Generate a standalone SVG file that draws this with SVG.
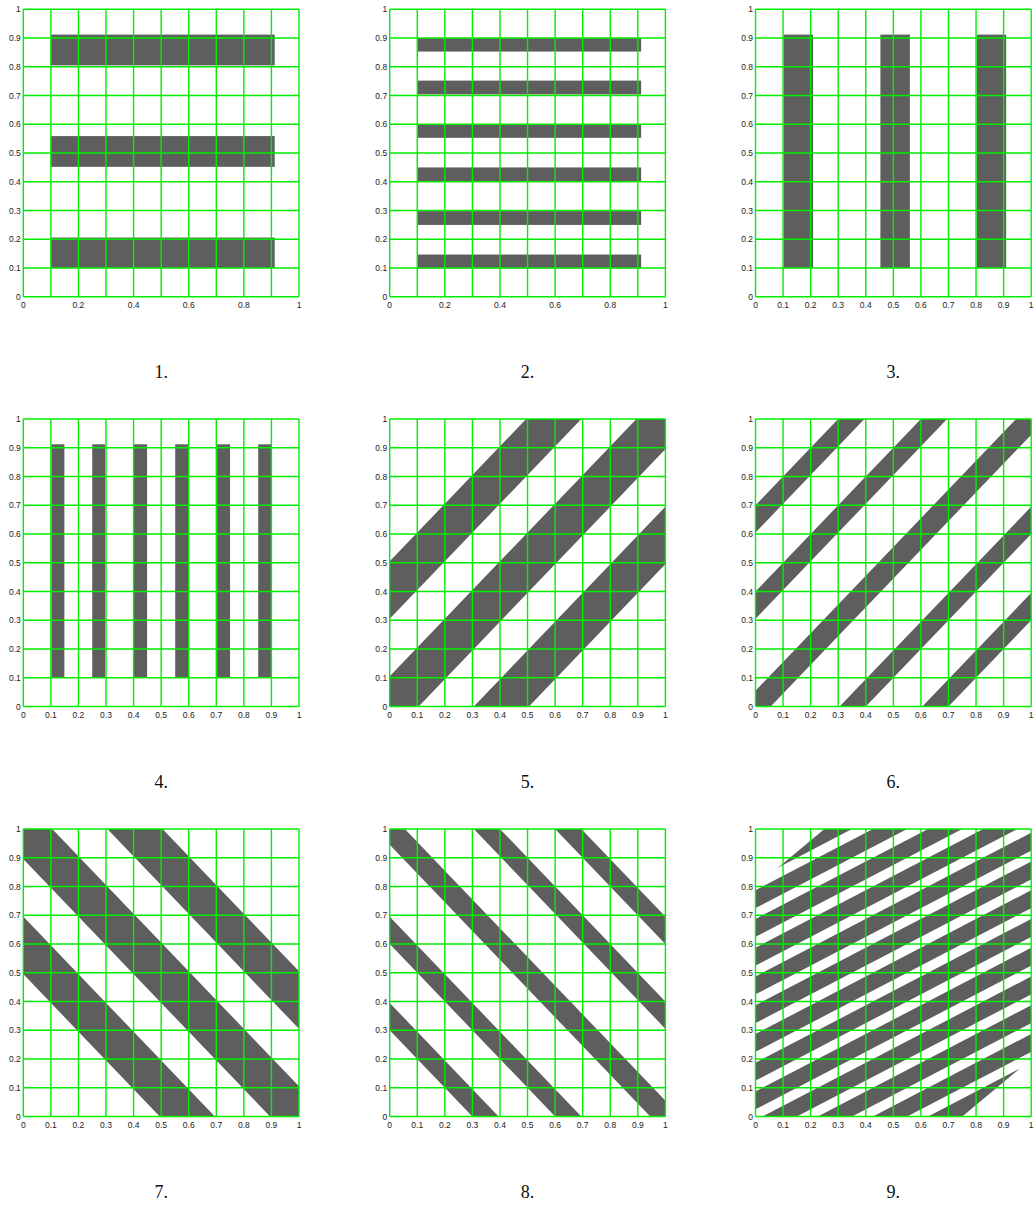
<svg xmlns="http://www.w3.org/2000/svg" width="1034" height="1216" viewBox="0 0 1034 1216">
<style>
.fill{fill:#5e5e5e;stroke:none}
.grid{fill:none;stroke:#00ee00;stroke-width:1.4}
.tick{font-family:"Liberation Sans",Arial,sans-serif;font-size:8.5px;fill:#222}
.yl{text-anchor:end}
.xl{text-anchor:middle}
.cap{font-family:"Liberation Serif","DejaVu Serif",serif;font-size:18px;fill:#111;text-anchor:middle}
</style>
<defs>
<clipPath id="unit"><rect x="0" y="0" width="1" height="1"/></clipPath>
<clipPath id="hex"><polygon points="0,0 0.75,0 1,0.2 1,1 0.25,1 0,0.8"/></clipPath>
<path id="grid" class="grid" d="M0 0V287.5M27.57 0V287.5M55.14 0V287.5M82.71 0V287.5M110.28 0V287.5M137.85 0V287.5M165.42 0V287.5M192.99 0V287.5M220.56 0V287.5M248.13 0V287.5M275.7 0V287.5M0 0H275.7M0 28.75H275.7M0 57.5H275.7M0 86.25H275.7M0 115H275.7M0 143.75H275.7M0 172.5H275.7M0 201.25H275.7M0 230H275.7M0 258.75H275.7M0 287.5H275.7"/>
<g id="ylab" class="tick yl">
<text x="-2.5" y="290.5">0</text><text x="-2.5" y="261.75">0.1</text><text x="-2.5" y="233">0.2</text><text x="-2.5" y="204.25">0.3</text><text x="-2.5" y="175.5">0.4</text><text x="-2.5" y="146.75">0.5</text><text x="-2.5" y="118">0.6</text><text x="-2.5" y="89.25">0.7</text><text x="-2.5" y="60.5">0.8</text><text x="-2.5" y="31.75">0.9</text><text x="-2.5" y="3">1</text>
</g>
<g id="xlabA" class="tick xl">
<text x="0" y="299">0</text><text x="55.14" y="299">0.2</text><text x="110.28" y="299">0.4</text><text x="165.42" y="299">0.6</text><text x="220.56" y="299">0.8</text><text x="275.7" y="299">1</text>
</g>
<g id="xlabB" class="tick xl">
<text x="0" y="299">0</text><text x="27.57" y="299">0.1</text><text x="55.14" y="299">0.2</text><text x="82.71" y="299">0.3</text><text x="110.28" y="299">0.4</text><text x="137.85" y="299">0.5</text><text x="165.42" y="299">0.6</text><text x="192.99" y="299">0.7</text><text x="220.56" y="299">0.8</text><text x="248.13" y="299">0.9</text><text x="275.7" y="299">1</text>
</g>
</defs>
<rect width="1034" height="1216" fill="#fff"/>

<g id="plot1">
<g transform="translate(23.3,296.8) scale(275.7,-287.5)" class="fill">
<rect x="0.1" y="0.805" width="0.812" height="0.107"/>
<rect x="0.1" y="0.452" width="0.812" height="0.107"/>
<rect x="0.1" y="0.1" width="0.812" height="0.106"/>
</g>
<use href="#grid" x="23.3" y="9.3"/>
<use href="#ylab" x="23.3" y="9.3"/>
<use href="#xlabA" x="23.3" y="9.3"/>
<text class="cap" x="161.2" y="378">1.</text>
</g>

<g id="plot2">
<g transform="translate(389.7,296.8) scale(275.7,-287.5)" class="fill">
<rect x="0.1" y="0.099" width="0.812" height="0.048"/>
<rect x="0.1" y="0.25" width="0.812" height="0.048"/>
<rect x="0.1" y="0.402" width="0.812" height="0.048"/>
<rect x="0.1" y="0.553" width="0.812" height="0.048"/>
<rect x="0.1" y="0.704" width="0.812" height="0.048"/>
<rect x="0.1" y="0.853" width="0.812" height="0.047"/>
</g>
<use href="#grid" x="389.7" y="9.3"/>
<use href="#ylab" x="389.7" y="9.3"/>
<use href="#xlabA" x="389.7" y="9.3"/>
<text class="cap" x="527.5" y="378">2.</text>
</g>

<g id="plot3">
<g transform="translate(755.5,296.8) scale(275.7,-287.5)" class="fill">
<rect x="0.102" y="0.1" width="0.107" height="0.812"/>
<rect x="0.453" y="0.1" width="0.107" height="0.812"/>
<rect x="0.803" y="0.1" width="0.106" height="0.812"/>
</g>
<use href="#grid" x="755.5" y="9.3"/>
<use href="#ylab" x="755.5" y="9.3"/>
<use href="#xlabB" x="755.5" y="9.3"/>
<text class="cap" x="893.3" y="378">3.</text>
</g>

<g id="plot4">
<g transform="translate(23.3,706.5) scale(275.7,-287.5)" class="fill">
<rect x="0.102" y="0.1" width="0.047" height="0.812"/>
<rect x="0.25" y="0.1" width="0.047" height="0.812"/>
<rect x="0.401" y="0.1" width="0.048" height="0.812"/>
<rect x="0.551" y="0.1" width="0.048" height="0.812"/>
<rect x="0.703" y="0.1" width="0.047" height="0.812"/>
<rect x="0.852" y="0.1" width="0.047" height="0.812"/>
</g>
<use href="#grid" x="23.3" y="419"/>
<use href="#ylab" x="23.3" y="419"/>
<use href="#xlabB" x="23.3" y="419"/>
<text class="cap" x="161.2" y="788">4.</text>
</g>

<g id="plot5">
<g transform="translate(389.7,706.5) scale(275.7,-287.5)" class="fill">
<g clip-path="url(#unit)">
<path d="M-0.1 -0.205L1.1 0.995L1.1 1.205L-0.1 0.005Z"/>
<path d="M-0.1 0.205L1.1 1.405L1.1 1.605L-0.1 0.405Z"/>
<path d="M-0.1 -0.605L1.1 0.595L1.1 0.795L-0.1 -0.405Z"/>
</g>
</g>
<use href="#grid" x="389.7" y="419"/>
<use href="#ylab" x="389.7" y="419"/>
<use href="#xlabB" x="389.7" y="419"/>
<text class="cap" x="527.5" y="788">5.</text>
</g>

<g id="plot6">
<g transform="translate(755.5,706.5) scale(275.7,-287.5)" class="fill">
<g clip-path="url(#unit)">
<path d="M-0.1 -0.155L1.1 1.045L1.1 1.155L-0.1 -0.045Z"/>
<path d="M-0.1 0.205L1.1 1.405L1.1 1.5L-0.1 0.3Z"/>
<path d="M-0.1 0.505L1.1 1.705L1.1 1.8L-0.1 0.6Z"/>
<path d="M-0.1 -0.5L1.1 0.7L1.1 0.795L-0.1 -0.405Z"/>
<path d="M-0.1 -0.8L1.1 0.4L1.1 0.495L-0.1 -0.705Z"/>
</g>
</g>
<use href="#grid" x="755.5" y="419"/>
<use href="#ylab" x="755.5" y="419"/>
<use href="#xlabB" x="755.5" y="419"/>
<text class="cap" x="893.3" y="788">6.</text>
</g>

<g id="plot7">
<g transform="translate(23.3,1116.5) scale(275.7,-287.5)" class="fill">
<g clip-path="url(#unit)">
<path d="M-0.1 0.995L1.1 -0.205L1.1 0.005L-0.1 1.205Z"/>
<path d="M-0.1 1.405L1.1 0.205L1.1 0.405L-0.1 1.605Z"/>
<path d="M-0.1 0.595L1.1 -0.605L1.1 -0.405L-0.1 0.795Z"/>
</g>
</g>
<use href="#grid" x="23.3" y="829"/>
<use href="#ylab" x="23.3" y="829"/>
<use href="#xlabB" x="23.3" y="829"/>
<text class="cap" x="161.2" y="1198">7.</text>
</g>

<g id="plot8">
<g transform="translate(389.7,1116.5) scale(275.7,-287.5)" class="fill">
<g clip-path="url(#unit)">
<path d="M-0.1 1.045L1.1 -0.155L1.1 -0.045L-0.1 1.155Z"/>
<path d="M-0.1 1.405L1.1 0.205L1.1 0.3L-0.1 1.5Z"/>
<path d="M-0.1 1.7L1.1 0.5L1.1 0.595L-0.1 1.795Z"/>
<path d="M-0.1 0.7L1.1 -0.5L1.1 -0.405L-0.1 0.795Z"/>
<path d="M-0.1 0.4L1.1 -0.8L1.1 -0.705L-0.1 0.495Z"/>
</g>
</g>
<use href="#grid" x="389.7" y="829"/>
<use href="#ylab" x="389.7" y="829"/>
<use href="#xlabB" x="389.7" y="829"/>
<text class="cap" x="527.5" y="1198">8.</text>
</g>

<g id="plot9">
<g transform="translate(755.5,1116.5) scale(275.7,-287.5)" class="fill">
<g clip-path="url(#hex)">
<path d="M-0.1 -0.525L1.1 0.075L1.1 0.137L-0.1 -0.463Z
M-0.1 -0.425L1.1 0.175L1.1 0.237L-0.1 -0.363Z
M-0.1 -0.325L1.1 0.275L1.1 0.337L-0.1 -0.263Z
M-0.1 -0.225L1.1 0.375L1.1 0.437L-0.1 -0.163Z
M-0.1 -0.125L1.1 0.475L1.1 0.537L-0.1 -0.063Z
M-0.1 -0.025L1.1 0.575L1.1 0.637L-0.1 0.037Z
M-0.1 0.075L1.1 0.675L1.1 0.737L-0.1 0.137Z
M-0.1 0.175L1.1 0.775L1.1 0.837L-0.1 0.237Z
M-0.1 0.275L1.1 0.875L1.1 0.937L-0.1 0.337Z
M-0.1 0.375L1.1 0.975L1.1 1.037L-0.1 0.437Z
M-0.1 0.475L1.1 1.075L1.1 1.137L-0.1 0.537Z
M-0.1 0.575L1.1 1.175L1.1 1.237L-0.1 0.637Z
M-0.1 0.675L1.1 1.275L1.1 1.337L-0.1 0.737Z
M-0.1 0.775L1.1 1.375L1.1 1.437L-0.1 0.837Z"/>
</g>
</g>
<use href="#grid" x="755.5" y="829"/>
<use href="#ylab" x="755.5" y="829"/>
<use href="#xlabB" x="755.5" y="829"/>
<text class="cap" x="893.3" y="1198">9.</text>
</g>
</svg>
